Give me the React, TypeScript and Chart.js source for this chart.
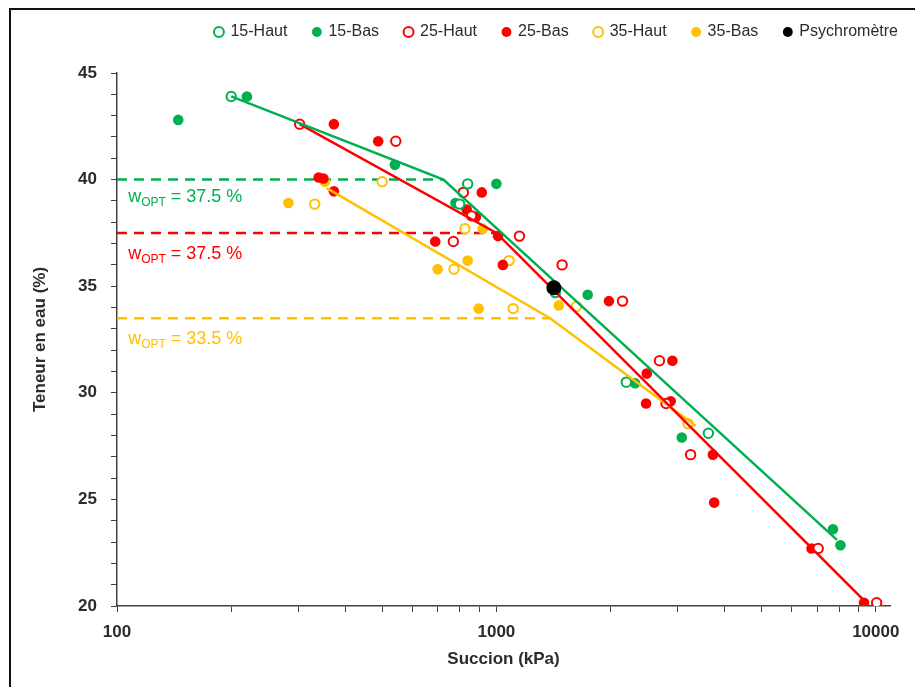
import React, { useEffect, useRef } from "react";
import { Chart, registerables } from "chart.js";

Chart.register(...registerables);

const GREEN = "#00B050";
const RED = "#FF0000";
const YELLOW = "#FFC000";
const BLACK = "#000000";
const TEXT = "#2b2b2b";
const FONT = "'Liberation Sans', Arial, sans-serif";

// Measured points [succion kPa, teneur en eau %]
const haut15: [number, number][] = [
  [200, 43.9], [800, 38.85], [840, 39.8], [1430, 34.7], [2200, 30.5], [3620, 28.1],
];
const bas15: [number, number][] = [
  [145, 42.8], [220, 43.9], [540, 40.7], [780, 38.9], [1000, 39.8], [1740, 34.6],
  [2320, 30.45], [3080, 27.9], [7710, 23.6], [8070, 22.85],
];
const haut25: [number, number][] = [
  [303, 42.6], [543, 41.8], [818, 39.4], [860, 38.3], [770, 37.1], [1150, 37.35],
  [1490, 36.0], [2150, 34.3], [2690, 31.5], [2800, 29.5], [3250, 27.1], [7050, 22.7],
  [10050, 20.15],
];
const bas25: [number, number][] = [
  [340, 40.1], [350, 40.05], [373, 42.6], [488, 41.8], [373, 39.45], [915, 39.4],
  [835, 38.6], [883, 38.25], [1010, 37.35], [690, 37.1], [1040, 36.0], [1980, 34.3],
  [2910, 31.5], [2490, 30.9], [2480, 29.5], [2880, 29.6], [3720, 27.1], [3750, 24.85],
  [6770, 22.7], [9310, 20.15],
];
const haut35: [number, number][] = [
  [332, 38.85], [500, 39.9], [826, 37.7], [773, 35.8], [1080, 36.2], [1107, 33.95],
  [1625, 34.05], [3200, 28.55],
];
const bas35: [number, number][] = [
  [283, 38.9], [353, 39.9], [920, 37.7], [700, 35.8], [840, 36.2], [898, 33.95], [1460, 34.1],
];
const psychro: [number, number][] = [[1417, 34.93]];

// Fitted lines
const fit15: [number, number][] = [[200, 43.9], [725, 40.0], [7900, 23.1]];
const fit25: [number, number][] = [[303, 42.6], [1000, 37.5], [9450, 20.15]];
const fit35: [number, number][] = [[357, 39.6], [1385, 33.5], [3350, 28.45]];

// w_OPT dashed lines
const opt15: [number, number][] = [[100, 40], [725, 40]];
const opt25: [number, number][] = [[100, 37.5], [1000, 37.5]];
const opt35: [number, number][] = [[100, 33.5], [1385, 33.5]];

// w_OPT annotations
const optLabelValues = ["37.5 %", "37.5 %", "33.5 %"];
const optLabelColors = [GREEN, RED, YELLOW];
const optLabelY = [38.95, 36.28, 32.3];
const optLabelX = 107;

// Axis ticks
const xTicks = [100, 200, 300, 400, 500, 600, 700, 800, 900, 1000, 2000, 3000, 4000, 5000,
  6000, 7000, 8000, 9000, 10000];
const xLabeled = [100, 1000, 10000];

const LEGEND_SHIFT = 34;

const toPts = (a: [number, number][]) => a.map(([x, y]) => ({ x, y }));

export default function App() {
  const ref = useRef<HTMLCanvasElement>(null);

  useEffect(() => {
    if (!ref.current) return;

    const open = (label: string, data: [number, number][], color: string) => ({
      label,
      data: toPts(data),
      showLine: false,
      pointStyle: "circle",
      pointRadius: 4.7,
      pointBorderWidth: 2,
      pointBackgroundColor: "#ffffff",
      pointBorderColor: color,
      backgroundColor: "#ffffff",
      borderColor: color,
      order: 2,
    });
    const filled = (label: string, data: [number, number][], color: string, r = 5.3) => ({
      label,
      data: toPts(data),
      showLine: false,
      pointStyle: "circle",
      pointRadius: r,
      pointBorderWidth: 0,
      pointBackgroundColor: color,
      pointBorderColor: color,
      backgroundColor: color,
      borderColor: color,
      order: 2,
    });
    const line = (label: string, data: [number, number][], color: string, dashed: boolean) => ({
      label,
      data: toPts(data),
      showLine: true,
      borderColor: color,
      backgroundColor: color,
      borderWidth: 2.5,
      borderDash: dashed ? [10, 7] : [],
      pointRadius: 0,
      pointHoverRadius: 0,
      fill: false,
      tension: 0,
      order: dashed ? 3 : 1,
    });

    const psy = filled("Psychromètre", psychro, BLACK, 7.5);
    (psy as any).order = 0;

    const optLabels = {
      id: "optLabels",
      afterDatasetsDraw(chart: any) {
        const ctx = chart.ctx;
        const xs = chart.scales.x;
        const ys = chart.scales.y;
        ctx.save();
        ctx.textBaseline = "alphabetic";
        ctx.textAlign = "left";
        optLabelValues.forEach((val, i) => {
          const x = xs.getPixelForValue(optLabelX);
          const y = ys.getPixelForValue(optLabelY[i]);
          ctx.fillStyle = optLabelColors[i];
          ctx.font = `18px ${FONT}`;
          ctx.fillText("w", x, y);
          let cx = x + ctx.measureText("w").width;
          ctx.font = `12px ${FONT}`;
          ctx.fillText("OPT", cx, y + 4);
          cx += ctx.measureText("OPT").width;
          ctx.font = `18px ${FONT}`;
          ctx.fillText(" = " + val, cx, y);
        });
        ctx.restore();
      },
    };

    const legendFix = {
      id: "legendFix",
      beforeLayout(chart: any) {
        const lg = chart.legend;
        if (lg && !lg._patched) {
          const f = lg.fit;
          lg.fit = function () {
            f.call(this);
            this.height = 73;
          };
          lg._patched = true;
        }
      },
      afterLayout(chart: any) {
        const lg = chart.legend;
        if (lg) {
          lg.left += LEGEND_SHIFT;
          lg.right += LEGEND_SHIFT;
          lg.top -= 2;
        }
      },
    };

    const chart = new Chart(ref.current, {
      type: "scatter",
      data: {
        datasets: [
          open("15-Haut", haut15, GREEN),
          filled("15-Bas", bas15, GREEN),
          open("25-Haut", haut25, RED),
          filled("25-Bas", bas25, RED),
          open("35-Haut", haut35, YELLOW),
          filled("35-Bas", bas35, YELLOW),
          psy,
          line("_fit15", fit15, GREEN, false),
          line("_fit25", fit25, RED, false),
          line("_fit35", fit35, YELLOW, false),
          line("_opt15", opt15, GREEN, true),
          line("_opt25", opt25, RED, true),
          line("_opt35", opt35, YELLOW, true),
        ] as any,
      },
      options: {
        responsive: false,
        animation: false,
        layout: { padding: { left: 0, right: 25, top: 0, bottom: 0 } },
        plugins: {
          tooltip: { enabled: false },
          legend: {
            display: true,
            position: "top",
            align: "end",
            labels: {
              usePointStyle: true,
              boxWidth: 7,
              boxHeight: 7,
              padding: 26,
              color: TEXT,
              font: { family: FONT, size: 16 },
              filter: (item: any) => !item.text.startsWith("_"),
              sort: (a: any, b: any) => a.datasetIndex - b.datasetIndex,
            },
          },
        },
        scales: {
          x: {
            type: "logarithmic",
            min: 100,
            max: 10900,
            afterBuildTicks: (s: any) => {
              s.ticks = xTicks.map((v) => ({ value: v }));
            },
            afterFit: (s: any) => {
              s.height = 81;
            },
            ticks: {
              autoSkip: false,
              maxRotation: 0,
              padding: 10,
              color: TEXT,
              font: { family: FONT, size: 17, weight: "bold" },
              callback: (v: any) => (xLabeled.includes(Number(v)) ? String(v) : ""),
            },
            grid: {
              display: true,
              drawOnChartArea: false,
              drawTicks: true,
              tickLength: 6,
              color: "#404040",
            },
            border: { display: true, color: "#404040", width: 1.5 },
            title: {
              display: true,
              text: "Succion (kPa)",
              color: TEXT,
              font: { family: FONT, size: 17, weight: "bold" },
              padding: { top: 0, bottom: 17 },
            },
          },
          y: {
            type: "linear",
            min: 20,
            max: 45,
            afterFit: (s: any) => {
              s.width = 117;
            },
            ticks: {
              stepSize: 1,
              autoSkip: false,
              padding: 14,
              color: TEXT,
              font: { family: FONT, size: 17, weight: "bold" },
              callback: (v: any) => (Number(v) % 5 === 0 ? String(v) : ""),
            },
            grid: {
              display: true,
              drawOnChartArea: false,
              drawTicks: true,
              tickLength: 6,
              color: "#404040",
            },
            border: { display: true, color: "#404040", width: 1.5 },
            title: {
              display: true,
              text: "Teneur en eau (%)",
              color: TEXT,
              font: { family: FONT, size: 17, weight: "bold" },
              padding: { top: 30, bottom: 0 },
            },
          },
        },
      },
      plugins: [legendFix, optLabels],
    } as any);

    return () => chart.destroy();
  }, []);

  return (
    <div
      style={{
        position: "absolute",
        left: 0,
        top: 0,
        width: 915,
        height: 687,
        background: "#ffffff",
        overflow: "hidden",
      }}
    >
      <canvas ref={ref} width={915} height={687} style={{ position: "absolute", left: 0, top: 0, width: 915, height: 687 }} />
      <div
        style={{
          position: "absolute",
          left: 9,
          top: 8,
          width: 930,
          height: 700,
          borderTop: "2px solid #111",
          borderLeft: "2px solid #111",
          pointerEvents: "none",
        }}
      />
    </div>
  );
}
